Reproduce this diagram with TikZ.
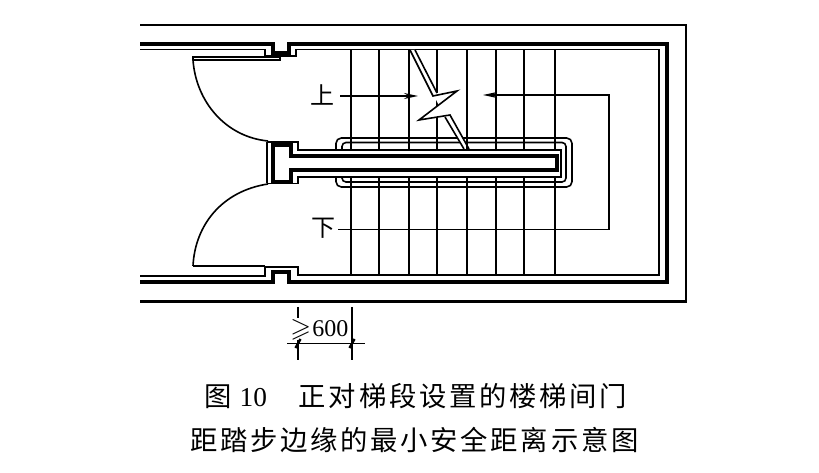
\documentclass[tikz,border=0pt]{standalone}
\usepackage{amssymb}
\usepackage{fontspec}
\usetikzlibrary{arrows.meta}
\newfontfamily\cjk{Noto Sans CJK SC}
\newfontfamily\cjkcap[LetterSpace=10]{Noto Sans CJK SC}
\newfontfamily\digits{Liberation Serif}
\tikzset{
  wall/.style={line width=3.3pt,miter limit=10},
  thinl/.style={line width=1.2pt},
  hair/.style={line width=1.1pt},
  lead/.style={line width=1.1pt,-{Stealth[length=10.5pt,width=4.5pt]}},
  dimtick/.style={line width=1.8pt},
  captext/.style={inner sep=0pt,anchor=west,font=\fontsize{20.5pt}{24pt}\selectfont},
  updown/.style={inner sep=0pt,font=\fontsize{18pt}{20pt}\selectfont\cjk}
}
\begin{document}
\begin{tikzpicture}[x=0.75pt,y=-0.75pt]
\useasboundingbox[fill=white] (0,0) rectangle (819,473);
% outer wall
\draw[line width=2pt] (140,25) -- (686,25) -- (686,301.5) -- (140,301.5);
% thick inner wall
\draw[wall] (140,44) -- (273,44) -- (273,53) -- (289,53) -- (289,44) -- (667,44) -- (667,282) -- (289,282) -- (289,272) -- (273,272) -- (273,282) -- (140,282);
% thin inner line
\draw[thinl] (140,49.5) -- (265,49.5) -- (265,56) -- (296,56) -- (296,49.5) -- (659,49.5) -- (659,275) -- (298,275) -- (298,267) -- (265,267) -- (265,276) -- (140,276);
% stair treads
\foreach \x in {351,379,409,437,467,496,524,555}{
  \draw[hair] (\x,49.5) -- (\x,150);
  \draw[hair] (\x,177) -- (\x,275);
}
% doors
\draw[thinl] (193,60) -- (193,57) -- (280,57) -- (280,60) -- (193,60);
\draw[thinl] (193,60) .. controls (196,102) and (226,137) .. (268,141);
\draw[thinl] (193,266) -- (265,266);
\draw[thinl] (193,266) .. controls (195,225) and (222,191) .. (268,184);
% handrails
\draw[thinl,rounded corners=4pt] (336,150) -- (336,138) -- (572,138) -- (572,187) -- (336,187) -- (336,177);
\draw[thinl,rounded corners=3pt] (342,150) -- (342,142.5) -- (566,142.5) -- (566,182) -- (342,182) -- (342,177);
% central wall
\draw[thinl] (267,142) -- (267,183.5);
\draw[thinl] (267,142) -- (298,142) -- (298,150) -- (561,150) -- (561,177) -- (298,177) -- (298,183.5) -- (267,183.5);
\draw[wall] (273,145) -- (291,145) -- (291,156) -- (557,156) -- (557,170) -- (291,170) -- (291,182) -- (273,182) -- cycle;
% break line
\fill[white] (410,50) -- (415,50) -- (437,93) -- (457,91) -- (419,120) -- (450,115) -- (469,149) -- (464,149) -- (445,117) -- cycle;
\draw[hair] (437,49.5) -- (437,92);
\draw[hair] (437,118) -- (437,150);
\draw[hair] (467,49.5) -- (467,150);
\draw[hair] (409,49.5) -- (409,150);
\draw[thinl,line join=miter] (410,50) -- (433,96) -- (457,91) -- (419,120) -- (450,115) -- (469,149);
\draw[thinl] (415,50) -- (437,93);
\draw[thinl] (445,117) -- (464,149);
% labels and leaders
\node[updown] (up) at (322,95) {上};
\node[updown] (down) at (323,228) {下};
\coordinate (upend) at (418,96);
\coordinate (downtip) at (483,95);
\coordinate (rb) at (609,95);
\coordinate (rc) at (609,229.5);
\coordinate (dl) at (338,229.5);
\draw[lead] (340,96) -- (upend);
\draw[lead] (dl) -- (rc) -- (rb) -- (downtip);
% dimension
\draw[hair] (298,307) -- (298,318);
\draw[hair] (298,340) -- (298,360);
\draw[hair] (352,307) -- (352,360);
\draw[hair] (287,343.5) -- (365,343.5);
\draw[dimtick] (295.5,348) -- (300.5,339);
\draw[dimtick] (349.5,348) -- (354.5,339);
\node[inner sep=0pt,anchor=west,font=\fontsize{18pt}{20pt}\selectfont\digits] (dimtxt) at (290,330) {\fontsize{20pt}{20pt}\selectfont$\geqslant$\kern1pt\fontsize{18pt}{20pt}\selectfont 600};
% caption
\node[captext] (c1) at (204,396) {\cjk 图\hspace{6pt}{\digits 10}\hspace{24pt}\cjkcap 正对梯段设置的楼梯间门};
\node[captext] (c2) at (190,440) {\cjkcap 距踏步边缘的最小安全距离示意图};
\end{tikzpicture}
\end{document}
